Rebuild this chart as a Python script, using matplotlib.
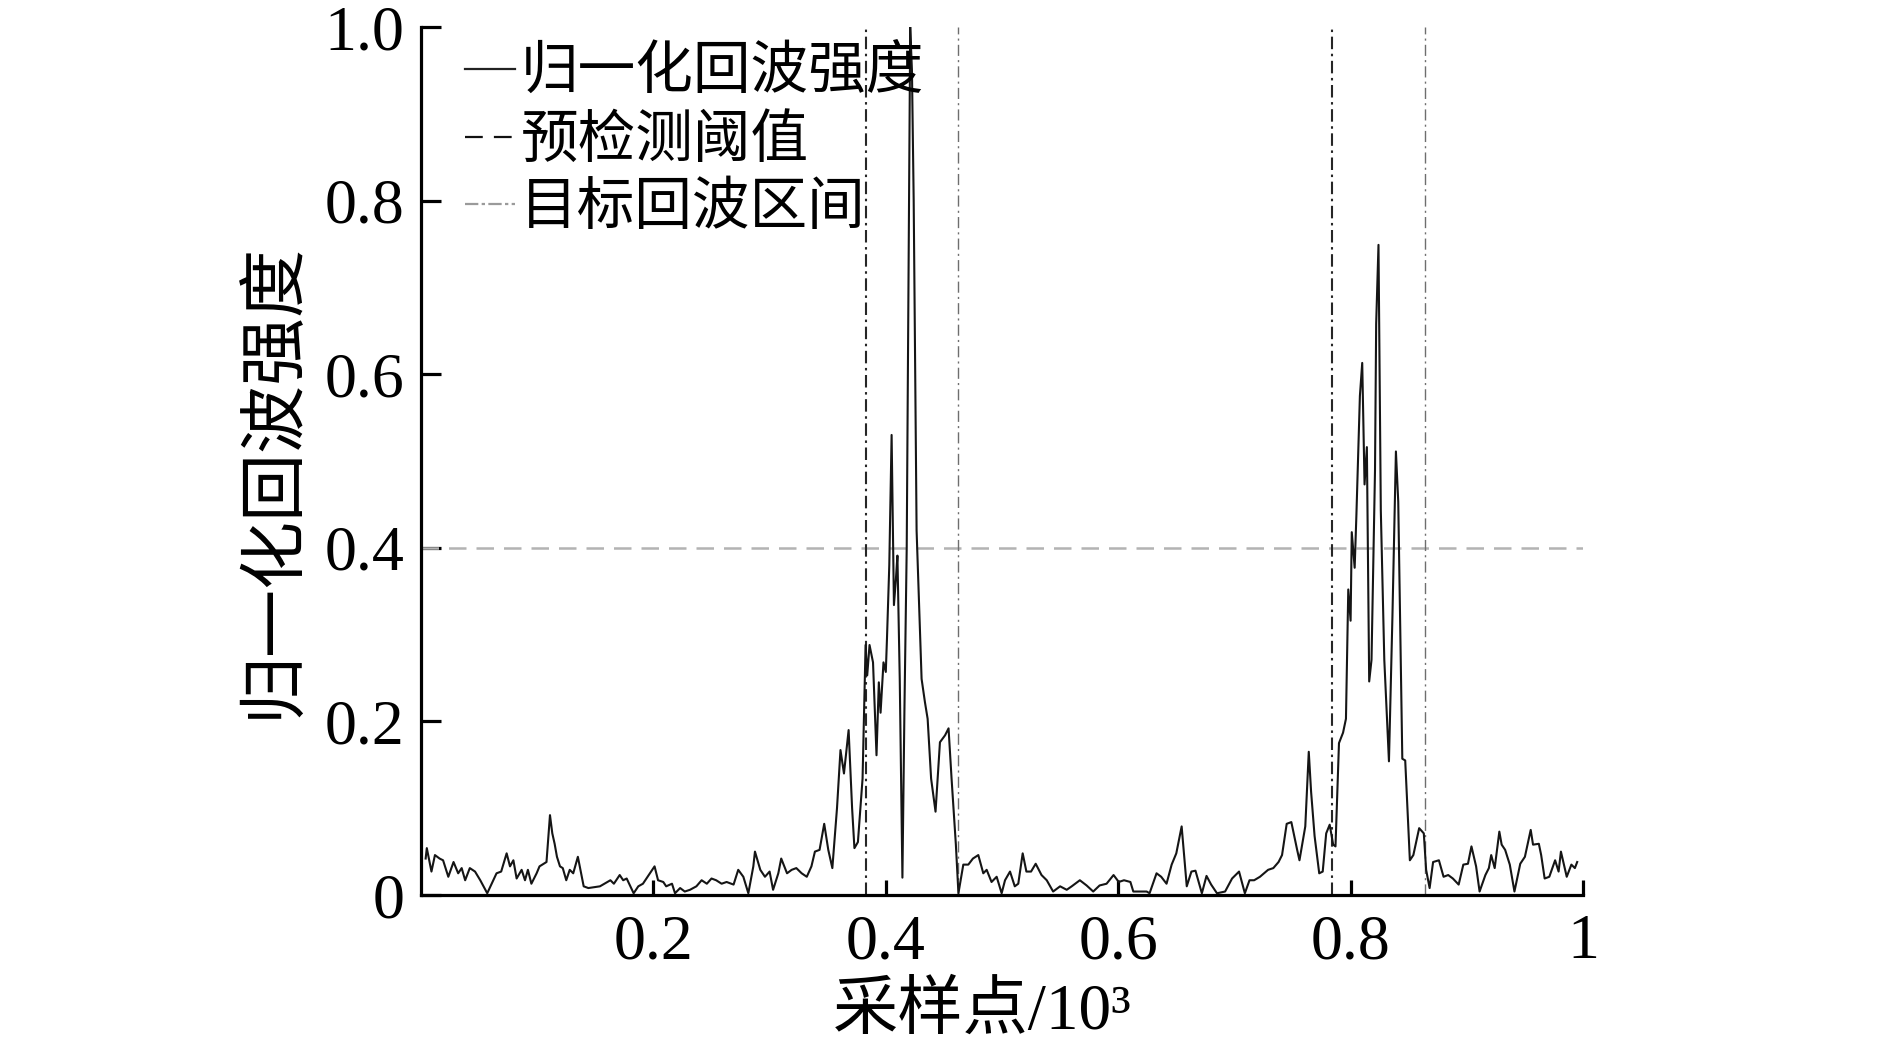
import matplotlib
matplotlib.use("Agg")
import matplotlib.pyplot as plt
from matplotlib.lines import Line2D

plt.rcParams['font.family'] = ['Liberation Serif', 'Noto Sans CJK SC', 'DejaVu Sans']
plt.rcParams['axes.unicode_minus'] = False

# ---- data (sample index / 10^3, normalized echo intensity) ----
sample_x = [
    0.004, 0.005, 0.009, 0.012, 0.016, 0.019, 0.0235, 0.028, 0.032, 0.035,
    0.038, 0.042, 0.0465, 0.051, 0.057, 0.065, 0.069, 0.0737, 0.0766, 0.0795,
    0.0823, 0.0866, 0.0895, 0.092, 0.095, 0.0995, 0.102, 0.108, 0.111, 0.113,
    0.115, 0.117, 0.1196, 0.122, 0.125, 0.128, 0.131, 0.135, 0.140, 0.144,
    0.154, 0.163, 0.166, 0.171, 0.174, 0.177, 0.183, 0.187, 0.191, 0.196,
    0.201, 0.204, 0.2085, 0.211, 0.216, 0.2186, 0.223, 0.227, 0.2315, 0.237,
    0.2415, 0.246, 0.250, 0.254, 0.2587, 0.263, 0.269, 0.273, 0.2774, 0.2817,
    0.286, 0.2874, 0.292, 0.296, 0.300, 0.303, 0.3075, 0.310, 0.315, 0.319,
    0.323, 0.3276, 0.332, 0.336, 0.339, 0.343, 0.347, 0.3505, 0.354, 0.358,
    0.361, 0.364, 0.368, 0.371, 0.373, 0.376, 0.380, 0.3826, 0.384, 0.386,
    0.389, 0.392, 0.394, 0.3955, 0.398, 0.400, 0.401, 0.403, 0.405, 0.407,
    0.4087, 0.410, 0.412, 0.4143, 0.416, 0.418, 0.421, 0.4225, 0.424, 0.4265,
    0.4308, 0.4337, 0.436, 0.439, 0.4428, 0.4466, 0.451, 0.454, 0.4566, 0.4603,
    0.4625, 0.4667, 0.471, 0.475, 0.4796, 0.4839, 0.4868, 0.491, 0.4954, 0.4997,
    0.5026, 0.5069, 0.511, 0.514, 0.5178, 0.521, 0.525, 0.529, 0.534, 0.5385,
    0.544, 0.550, 0.5557, 0.560, 0.567, 0.5728, 0.5785, 0.584, 0.590, 0.596,
    0.6005, 0.605, 0.6105, 0.613, 0.6245, 0.627, 0.633, 0.637, 0.6416, 0.646,
    0.650, 0.6546, 0.659, 0.663, 0.6665, 0.672, 0.676, 0.680, 0.685, 0.692,
    0.698, 0.704, 0.709, 0.713, 0.717, 0.722, 0.729, 0.7335, 0.738, 0.741,
    0.745, 0.749, 0.754, 0.756, 0.761, 0.764, 0.766, 0.769, 0.773, 0.776,
    0.779, 0.782, 0.785, 0.787, 0.790, 0.7935, 0.796, 0.798, 0.800, 0.801,
    0.8035, 0.805, 0.808, 0.810, 0.812, 0.814, 0.816, 0.818, 0.821, 0.822,
    0.824, 0.826, 0.829, 0.833, 0.836, 0.839, 0.841, 0.8445, 0.847, 0.851,
    0.854, 0.859, 0.863, 0.865, 0.868, 0.871, 0.876, 0.880, 0.884, 0.888,
    0.893, 0.897, 0.901, 0.904, 0.908, 0.911, 0.916, 0.919, 0.921, 0.924,
    0.928, 0.930, 0.933, 0.937, 0.941, 0.946, 0.950, 0.955, 0.957, 0.962,
    0.964, 0.967, 0.971, 0.976, 0.979, 0.981, 0.986, 0.990, 0.993, 0.995,
]
echo_intensity = [
    0.042, 0.054, 0.027, 0.046, 0.042, 0.040, 0.021, 0.038, 0.025, 0.031,
    0.017, 0.031, 0.027, 0.017, 0.002, 0.025, 0.027, 0.048, 0.033, 0.040,
    0.019, 0.029, 0.017, 0.029, 0.013, 0.025, 0.033, 0.038, 0.092, 0.071,
    0.059, 0.044, 0.033, 0.031, 0.017, 0.029, 0.025, 0.044, 0.010, 0.008,
    0.010, 0.017, 0.013, 0.023, 0.017, 0.019, 0.002, 0.010, 0.013, 0.023,
    0.033, 0.017, 0.015, 0.010, 0.013, 0.002, 0.008, 0.004, 0.006, 0.010,
    0.017, 0.013, 0.019, 0.017, 0.013, 0.015, 0.012, 0.029, 0.021, 0.002,
    0.033, 0.050, 0.029, 0.021, 0.027, 0.006, 0.025, 0.042, 0.025, 0.029,
    0.031, 0.025, 0.021, 0.033, 0.050, 0.052, 0.082, 0.052, 0.031, 0.100,
    0.167, 0.140, 0.190, 0.100, 0.054, 0.061, 0.134, 0.288, 0.253, 0.288,
    0.268, 0.161, 0.245, 0.210, 0.268, 0.257, 0.295, 0.380, 0.530, 0.334,
    0.364, 0.391, 0.249, 0.020, 0.210, 0.400, 1.000, 0.950, 0.800, 0.420,
    0.249, 0.222, 0.203, 0.134, 0.096, 0.176, 0.184, 0.192, 0.134, 0.058,
    0.002, 0.035, 0.035, 0.042, 0.046, 0.025, 0.029, 0.015, 0.021, 0.002,
    0.017, 0.027, 0.010, 0.013, 0.048, 0.027, 0.027, 0.036, 0.023, 0.017,
    0.004, 0.010, 0.006, 0.010, 0.017, 0.011, 0.004, 0.011, 0.013, 0.023,
    0.015, 0.017, 0.015, 0.004, 0.004, 0.002, 0.025, 0.021, 0.013, 0.035,
    0.048, 0.079, 0.010, 0.027, 0.028, 0.002, 0.022, 0.012, 0.002, 0.004,
    0.019, 0.027, 0.002, 0.017, 0.017, 0.021, 0.029, 0.031, 0.038, 0.046,
    0.082, 0.084, 0.052, 0.040, 0.079, 0.165, 0.119, 0.068, 0.025, 0.027,
    0.071, 0.081, 0.058, 0.056, 0.175, 0.187, 0.203, 0.352, 0.316, 0.418,
    0.377, 0.438, 0.575, 0.613, 0.473, 0.516, 0.246, 0.271, 0.489, 0.658,
    0.749, 0.443, 0.271, 0.154, 0.321, 0.511, 0.453, 0.157, 0.155, 0.040,
    0.046, 0.077, 0.071, 0.029, 0.008, 0.038, 0.040, 0.021, 0.023, 0.019,
    0.012, 0.035, 0.036, 0.056, 0.033, 0.004, 0.023, 0.031, 0.046, 0.031,
    0.073, 0.058, 0.052, 0.035, 0.004, 0.036, 0.044, 0.075, 0.058, 0.059,
    0.046, 0.019, 0.021, 0.040, 0.027, 0.050, 0.021, 0.035, 0.031, 0.038,
]
threshold = 0.4
interval_left = [0.3826, 0.784]
interval_right = [0.4625, 0.864]

x_ticks = [0.2, 0.4, 0.6, 0.8, 1.0]
x_tick_labels = ["0.2", "0.4", "0.6", "0.8", "1"]
y_ticks = [0, 0.2, 0.4, 0.6, 0.8, 1.0]
y_tick_labels = ["0", "0.2", "0.4", "0.6", "0.8", "1.0"]

legend_labels = ["归一化回波强度", "预检测阈值", "目标回波区间"]
x_label = "采样点/10³"
y_label = "归一化回波强度"

# ---- figure ----
W, H = 1890, 1049
fig = plt.figure(figsize=(W / 100, H / 100), dpi=100)
ax = fig.add_axes([421 / W, 1 - 895 / H, (1583 - 421) / W, (895 - 27) / H])

ax.plot(sample_x, echo_intensity, color='#151515', lw=1.5, zorder=3)
ax.axhline(threshold, color='#b3b3b3', lw=1.8, linestyle=(0, (7, 4)), zorder=2)
for xv in interval_left:
    ax.axvline(xv, color='#262626', lw=1.5, linestyle=(0, (6, 2.2, 1.2, 2.2)), zorder=2)
for xv in interval_right:
    ax.axvline(xv, color='#6e6e6e', lw=1.0, linestyle=(0, (8, 3, 1.5, 3)), zorder=2)

ax.set_xlim(0, 1)
ax.set_ylim(0, 1)
ax.set_xticks(x_ticks)
ax.set_xticklabels(x_tick_labels)
ax.set_yticks(y_ticks)
ax.set_yticklabels(y_tick_labels)

for s in ['top', 'right']:
    ax.spines[s].set_visible(False)
for s in ['left', 'bottom']:
    ax.spines[s].set_linewidth(2.3)
    ax.spines[s].set_color('black')

ax.tick_params(axis='y', direction='in', length=14.5, width=2.3, labelsize=46, pad=12)
ax.tick_params(axis='x', direction='in', length=11, width=2.3, labelsize=46, pad=14)

ax.set_xlabel(x_label, fontsize=47, va='center')
ax.xaxis.set_label_coords((982 - 421) / 1162, (895 - 1013) / 868)
ax.set_ylabel(y_label, fontsize=49, va='center')
ax.yaxis.set_label_coords((275 - 421) / 1162, (895 - 480) / 868)

handles = [
    Line2D([], [], color='#222222', lw=1.6),
    Line2D([], [], color='#111111', lw=1.6, linestyle=(0, (8, 5))),
    Line2D([], [], color='#9a9a9a', lw=1.6, linestyle=(0, (6, 1.5, 1.5, 1.5))),
]
leg = ax.legend(handles, legend_labels, loc='upper left',
                bbox_to_anchor=((465 - 421) / 1162, (895 - 47) / 868),
                frameon=False, fontsize=41.5, handlelength=0.86, handletextpad=0.1,
                labelspacing=0.24, borderpad=0, borderaxespad=0)

fig.savefig("out.png", dpi=100)
